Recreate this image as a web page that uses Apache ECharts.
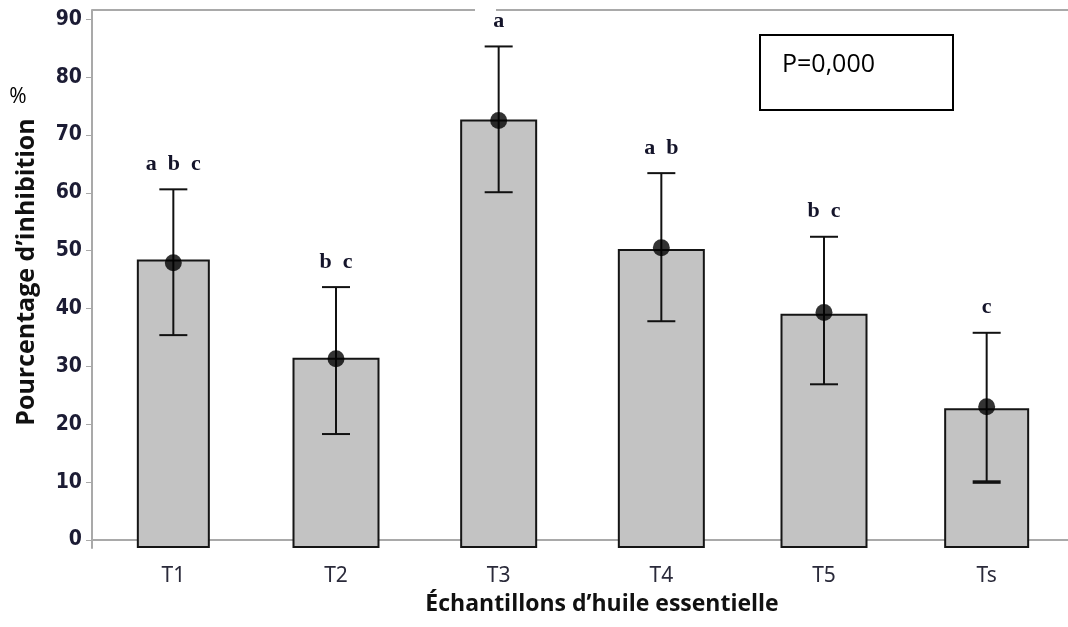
<!DOCTYPE html>
<html>
<head>
<meta charset="utf-8">
<script src="https://cdn.jsdelivr.net/npm/echarts@6/dist/echarts.min.js"></script>
<style>html,body{margin:0;padding:0;background:#fff}#c{width:1068px;height:627px}</style>
</head>
<body>
<div id="c"></div>
<script>
// ---- data ----
const categories = ['T1', 'T2', 'T3', 'T4', 'T5', 'Ts'];
const barValues = [48.3, 31.3, 72.5, 50.1, 38.9, 22.6];
const meanValues = [47.9, 31.3, 72.5, 50.5, 39.3, 23.0];
const upperValues = [60.6, 43.7, 85.3, 63.4, 52.4, 35.8];
const lowerValues = [35.4, 18.3, 60.1, 37.8, 26.9, 10.0];
const groupLetters = ['a  b  c', 'b  c', 'a', 'a  b', 'b  c', 'c'];
const yTicks = [0, 10, 20, 30, 40, 50, 60, 70, 80, 90];
const pText = 'P=0,000';
const yTitle = 'Pourcentage d\u2019inhibition';
const xTitle = '\u00C9chantillons d\u2019huile essentielle';

// ---- style ----
const Y_MIN = -1.4, Y_MAX = 91.6;
const BAR_WIDTHS = [71, 85, 75, 85, 85, 83];
const LOWER_CAP_WIDTHS = [2, 2, 2, 2, 2, 3.5];
const AXIS_GRAY = '#a9a9a9';

const chart = echarts.init(document.getElementById('c'), null, {renderer: 'canvas'});

const option = {
  animation: false,
  backgroundColor: '#ffffff',
  grid: {left: 92, top: 10, width: 985, height: 538, containLabel: false},
  xAxis: {
    type: 'category',
    data: categories,
    boundaryGap: true,
    axisLine: {show: true, lineStyle: {color: AXIS_GRAY, width: 2}},
    axisTick: {show: true, alignWithLabel: true, length: 5, lineStyle: {color: AXIS_GRAY, width: 1}},
    axisLabel: {margin: 18, fontSize: 21, fontFamily: '"Noto Sans"', color: '#2a2a3a'},
    splitLine: {show: false}
  },
  yAxis: {
    type: 'value',
    min: Y_MIN,
    max: Y_MAX,
    axisLine: {show: true, lineStyle: {color: AXIS_GRAY, width: 2}},
    axisTick: {show: true, length: 6, customValues: yTicks, lineStyle: {color: AXIS_GRAY, width: 1}},
    axisLabel: {
      customValues: yTicks, margin: 10, fontSize: 21, fontWeight: 'bold',
      fontFamily: '"DejaVu Sans Condensed", "DejaVu Sans"', color: '#1c1c34'
    },
    splitLine: {show: false}
  },
  series: [
    {
      type: 'custom',
      name: 'bars',
      data: categories.map((c, i) => [i, barValues[i]]),
      encode: {x: 0, y: 1},
      z: 2,
      renderItem: function (params, api) {
        const i = api.value(0);
        const top = api.coord([i, api.value(1)]);
        const base = api.coord([i, Y_MIN]);
        const w = BAR_WIDTHS[params.dataIndex];
        return {
          type: 'rect',
          shape: {x: top[0] - w / 2, y: top[1], width: w, height: base[1] - top[1] - 1},
          style: {fill: '#c3c3c3', stroke: '#151515', lineWidth: 2}
        };
      }
    },
    {
      type: 'custom',
      name: 'interval',
      data: categories.map((c, i) => [i, lowerValues[i], upperValues[i]]),
      encode: {x: 0, y: [1, 2]},
      z: 3,
      renderItem: function (params, api) {
        const i = api.value(0);
        const lo = api.coord([i, api.value(1)]);
        const hi = api.coord([i, api.value(2)]);
        const cap = 14;
        const ls = {stroke: '#111', lineWidth: 2};
        return {
          type: 'group',
          children: [
            {type: 'line', shape: {x1: hi[0], y1: hi[1], x2: lo[0], y2: lo[1]}, style: ls},
            {type: 'line', shape: {x1: hi[0] - cap, y1: hi[1], x2: hi[0] + cap, y2: hi[1]}, style: ls},
            {type: 'line', shape: {x1: lo[0] - cap, y1: lo[1], x2: lo[0] + cap, y2: lo[1]}, style: {stroke: '#111', lineWidth: LOWER_CAP_WIDTHS[params.dataIndex]}},
            {
              type: 'text',
              style: {
                text: groupLetters[params.dataIndex],
                x: hi[0], y: hi[1] - 25,
                align: 'center', verticalAlign: 'middle',
                textAlign: 'center', textVerticalAlign: 'middle',
                fontSize: 22, fontWeight: 'bold', fontFamily: '"Liberation Serif"',
                fill: '#14142a'
              }
            }
          ]
        };
      }
    },
    {
      type: 'scatter',
      name: 'mean',
      data: categories.map((c, i) => [i, meanValues[i]]),
      symbol: 'circle',
      symbolSize: 17,
      itemStyle: {color: '#000000'},
      z: 4
    }
  ],
  graphic: [
    {type: 'line', shape: {x1: 92, y1: 10, x2: 475, y2: 10}, style: {stroke: AXIS_GRAY, lineWidth: 2}, z: 1},
    {type: 'line', shape: {x1: 496, y1: 10, x2: 1068, y2: 10}, style: {stroke: AXIS_GRAY, lineWidth: 2}, z: 1},
    {type: 'rect', shape: {x: 760, y: 35, width: 193, height: 75}, style: {fill: '#fff', stroke: '#000', lineWidth: 2}, z: 5},
    {type: 'text', x: 782, y: 65, style: {text: pText, fontSize: 25, fontFamily: '"Open Sans"', fill: '#000', textVerticalAlign: 'middle', verticalAlign: 'middle'}, z: 6},
    {type: 'text', x: 18, y: 97, style: {text: '%', fontSize: 21, fontFamily: '"Open Sans"', fill: '#000', textAlign: 'center', align: 'center', textVerticalAlign: 'middle', verticalAlign: 'middle'}},
    {type: 'text', x: 27, y: 272, rotation: Math.PI / 2, style: {text: yTitle, fontSize: 25, fontWeight: 'bold', fontFamily: '"Open Sans"', fill: '#111', textAlign: 'center', align: 'center', textVerticalAlign: 'middle', verticalAlign: 'middle'}},
    {type: 'text', x: 602, y: 604, style: {text: xTitle, fontSize: 23, fontWeight: 'bold', fontFamily: '"Open Sans"', fill: '#111', textAlign: 'center', align: 'center', textVerticalAlign: 'middle', verticalAlign: 'middle'}}
  ]
};
chart.setOption(option);
</script>
</body>
</html>
